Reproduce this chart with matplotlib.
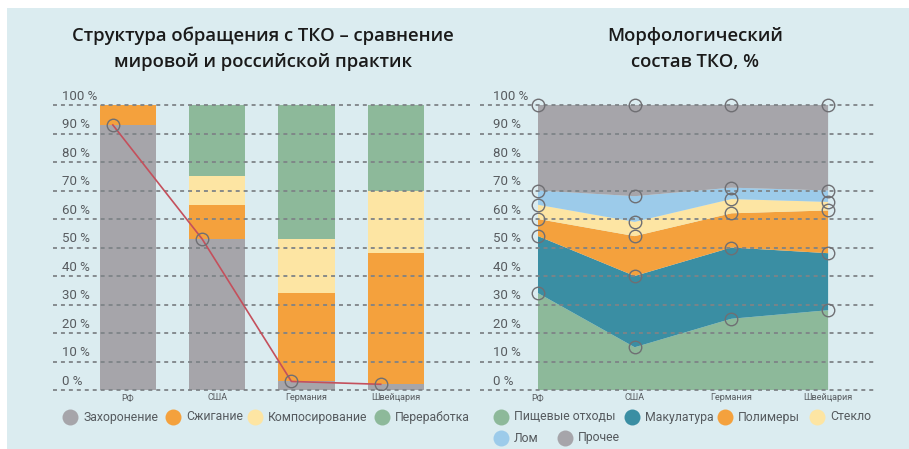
import numpy as np
import matplotlib.pyplot as plt
from matplotlib.lines import Line2D
from matplotlib.patches import Rectangle

plt.rcParams['font.family'] = ['Open Sans', 'DejaVu Sans']

# left chart data
countries = ['РФ', 'США', 'Германия', 'Швейцария']
landfill = [93, 53, 3, 2]
burning = [7, 12, 31, 46]
compost = [0, 10, 19, 22]
recycling = [0, 25, 47, 30]
left_names = ['Захоронение', 'Сжигание', 'Компосирование', 'Переработка']

# right chart data
food = [34, 15, 25, 28]
paper = [20, 25, 25, 20]
plastic = [6, 14, 12, 15]
glass = [5, 5, 5, 3]
metal = [5, 9, 4, 4]
other = [30, 32, 29, 30]
right_names = ['Пищевые отходы', 'Макулатура', 'Полимеры', 'Стекло', 'Лом', 'Прочее']

ticks = list(range(0, 101, 10))

c_gray = '#a6a5aa'
c_orange = '#f4a13d'
c_yellow = '#fde5a3'
c_green = '#8db99a'
c_teal = '#3a8ea3'
c_blue = '#9ccbea'
bg = '#dbecf0'
grid_c = '#7e8387'
txt_c = '#575b5f'

W, H = 909, 449
fig = plt.figure(figsize=(W / 100, H / 100), dpi=100)
fig.patch.set_facecolor('white')
fig.add_artist(Rectangle((7 / W, 0), 1, 1 - 8 / H, transform=fig.transFigure,
                         facecolor=bg, edgecolor='none', zorder=-10))


def px_axes(x0, x1):
    return fig.add_axes([x0 / W, 1 - 390 / H, (x1 - x0) / W, (390 - 105) / H])


def style(ax, xl, tick_x):
    ax.set_facecolor('none')
    for s in ax.spines.values():
        s.set_visible(False)
    ax.set_xticks([])
    ax.set_yticks([])
    ax.set_xlim(*xl)
    ax.set_ylim(0, 100)
    for t in ticks:
        ax.axhline(t, color=grid_c, lw=1.3, ls=(0, (2.2, 2.2)), zorder=3, clip_on=False)
        ax.text(tick_x, t + 3.0, f'{t} %', ha='left', va='center', fontsize=9.5,
                color=txt_c, family='Roboto', clip_on=False)


# ---- left chart
axl = px_axes(53, 470)
style(axl, (-0.84, 3.83), -0.74)
x = np.arange(len(countries))
bottom = np.zeros(4)
for vals, col in zip([landfill, burning, compost, recycling],
                     [c_gray, c_orange, c_yellow, c_green]):
    axl.bar(x, vals, bottom=bottom, width=0.63, color=col, zorder=2)
    bottom += np.array(vals)
axl.plot(x - 0.17, landfill, color='#c4505c', lw=1.2, zorder=5)
axl.plot(x - 0.17, landfill, 'o', mfc='none', mec='#6f6f73', ms=9, mew=1, zorder=6)
for i, c in enumerate(countries):
    axl.text(i, -2.6, c, ha='center', va='center', fontsize=6.5, color=txt_c,
             family='Roboto', clip_on=False)

# ---- right chart
axr = px_axes(480, 877)
xr0, xr1 = (480 - 538) / 96.7, (877 - 538) / 96.7
style(axr, (xr0, xr1), (493 - 538) / 96.7)
layers = [food, paper, plastic, glass, metal, other]
cols_r = [c_green, c_teal, c_orange, c_yellow, c_blue, c_gray]
axr.stackplot(x, *layers, colors=cols_r, zorder=2)
cum = np.cumsum(np.array(layers), axis=0)
for row in cum:
    axr.plot(x, row, 'o', mfc='none', mec='#6f6f73', ms=9, mew=1, zorder=6, clip_on=False)
for i, c in enumerate(countries):
    axr.text(i, -2.6, c, ha='center', va='center', fontsize=6.5, color=txt_c,
             family='Roboto', clip_on=False)

# ---- titles
for xc, lines in [(263, ['Структура обращения с ТКО – сравнение', 'мировой и российской практик']),
                  (695, ['Морфологический', 'состав ТКО, %'])]:
    for yc, line in zip([36, 62], lines):
        fig.text(xc / W, 1 - yc / H, line, ha='center', va='center',
                 fontsize=13.3, fontweight='semibold', color='#1a1a1a')


# ---- legends
def legend_item(xc, yc, col, label):
    fig.add_artist(Line2D([xc / W], [1 - yc / H], marker='o', ms=11.5, color=col, mec='none',
                          ls='none', transform=fig.transFigure))
    fig.text((xc + 13) / W, 1 - yc / H, label, ha='left', va='center', fontsize=8.8,
             color='#555a5e', family='Roboto')


for xc, col, lab in zip([70, 173, 255, 382], [c_gray, c_orange, c_yellow, c_green], left_names):
    legend_item(xc, 417, col, lab)
pos_r = [(501, 417), (632, 417), (725, 417), (817, 417), (501, 438), (565, 438)]
for (xc, yc), col, lab in zip(pos_r, cols_r, right_names):
    legend_item(xc, yc, col, lab)

fig.savefig('out.png', dpi=100, facecolor=fig.get_facecolor())
